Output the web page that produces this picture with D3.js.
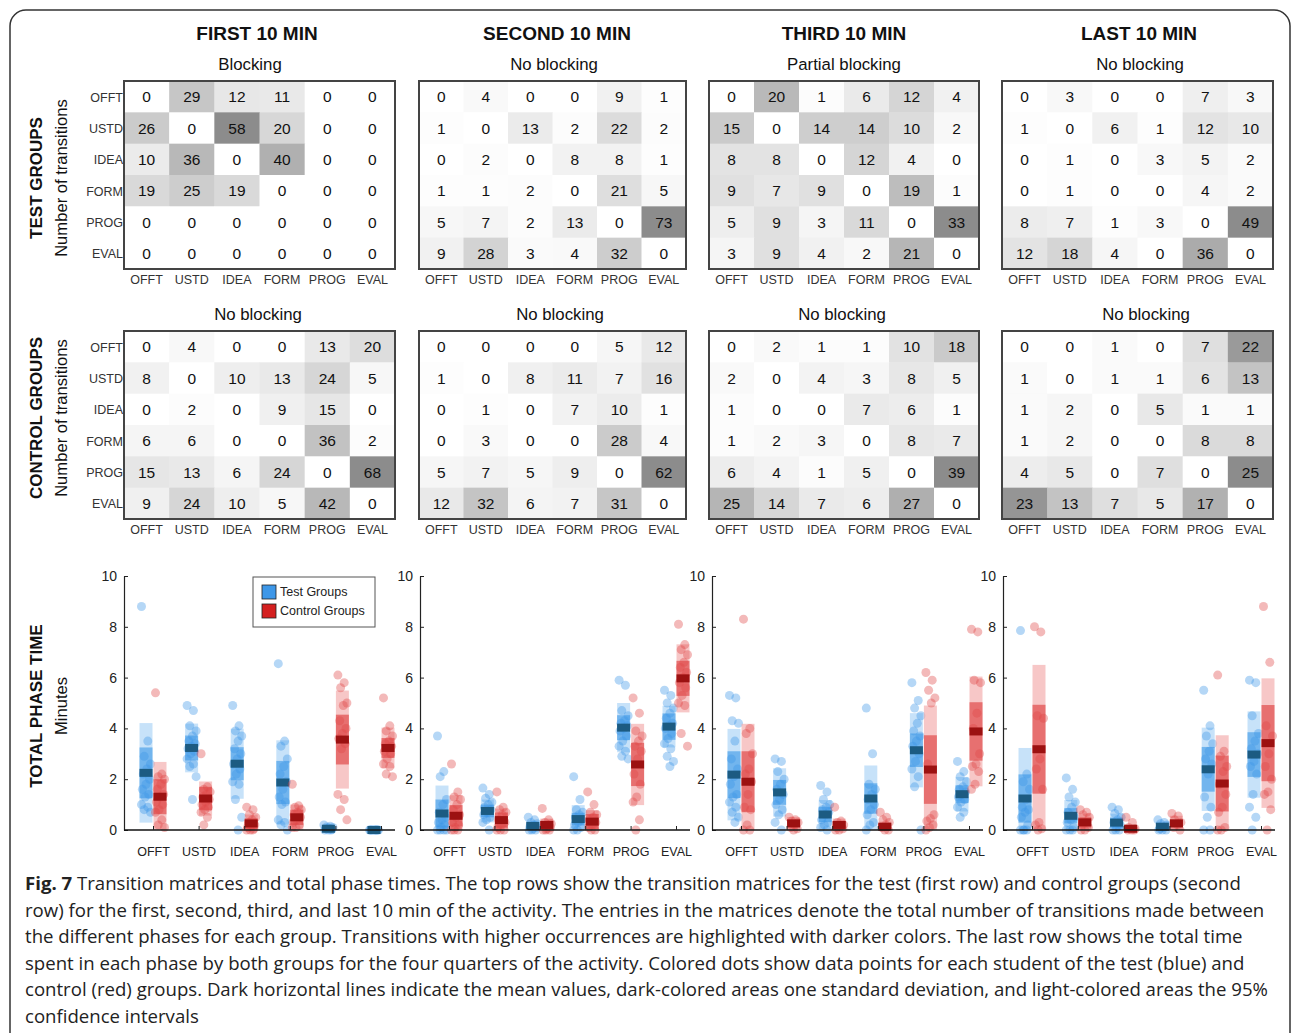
<!DOCTYPE html>
<html>
<head>
<meta charset="utf-8">
<script src="https://cdn.jsdelivr.net/npm/d3@7"></script>
<style>
body { margin: 0; background: #fff; }
text { font-family: "Liberation Sans", Arial, sans-serif; }
</style>
</head>
<body>
<script>
var phases = ["OFFT", "USTD", "IDEA", "FORM", "PROG", "EVAL"];
var periods = ["FIRST 10 MIN", "SECOND 10 MIN", "THIRD 10 MIN", "LAST 10 MIN"];
var testLabels = ["Blocking", "No blocking", "Partial blocking", "No blocking"];
var controlLabels = ["No blocking", "No blocking", "No blocking", "No blocking"];

// transition matrices, rows = from, cols = to
var testMatrices = [
  [[0,29,12,11,0,0],[26,0,58,20,0,0],[10,36,0,40,0,0],[19,25,19,0,0,0],[0,0,0,0,0,0],[0,0,0,0,0,0]],
  [[0,4,0,0,9,1],[1,0,13,2,22,2],[0,2,0,8,8,1],[1,1,2,0,21,5],[5,7,2,13,0,73],[9,28,3,4,32,0]],
  [[0,20,1,6,12,4],[15,0,14,14,10,2],[8,8,0,12,4,0],[9,7,9,0,19,1],[5,9,3,11,0,33],[3,9,4,2,21,0]],
  [[0,3,0,0,7,3],[1,0,6,1,12,10],[0,1,0,3,5,2],[0,1,0,0,4,2],[8,7,1,3,0,49],[12,18,4,0,36,0]]
];
var controlMatrices = [
  [[0,4,0,0,13,20],[8,0,10,13,24,5],[0,2,0,9,15,0],[6,6,0,0,36,2],[15,13,6,24,0,68],[9,24,10,5,42,0]],
  [[0,0,0,0,5,12],[1,0,8,11,7,16],[0,1,0,7,10,1],[0,3,0,0,28,4],[5,7,5,9,0,62],[12,32,6,7,31,0]],
  [[0,2,1,1,10,18],[2,0,4,3,8,5],[1,0,0,7,6,1],[1,2,3,0,8,7],[6,4,1,5,0,39],[25,14,7,6,27,0]],
  [[0,0,1,0,7,22],[1,0,1,1,6,13],[1,2,0,5,1,1],[1,2,0,0,8,8],[4,5,0,7,0,25],[23,13,7,5,17,0]]
];

// total phase time (minutes): mean, sd half-width, 95% half-width
var testMean = [[2.25,3.23,2.61,1.87,0.05,0.0],[0.65,0.75,0.16,0.43,4.03,4.07],[2.18,1.48,0.61,1.24,3.14,1.41],[1.24,0.56,0.29,0.13,2.39,2.97]];
var testSd   = [[1.0,0.49,0.65,0.85,0.06,0.0],[0.55,0.25,0.1,0.25,0.49,0.52],[0.92,0.49,0.3,0.6,0.66,0.35],[0.95,0.3,0.2,0.1,0.88,0.88]];
var testCi   = [[1.96,0.96,1.38,1.66,0.12,0.0],[1.1,0.45,0.2,0.55,0.97,0.82],[1.8,0.95,0.57,1.3,1.46,0.68],[1.99,0.62,0.35,0.2,1.64,1.7]];
var controlMean = [[1.31,1.24,0.26,0.5,3.56,3.23],[0.56,0.39,0.2,0.33,2.58,5.97],[1.9,0.26,0.2,0.13,2.38,3.88],[3.18,0.3,0.05,0.26,1.83,3.42]];
var controlSd   = [[0.69,0.46,0.2,0.3,0.98,0.39],[0.42,0.3,0.15,0.3,0.85,0.69],[1.2,0.15,0.15,0.12,1.35,1.15],[1.75,0.2,0.08,0.15,1.1,1.5]];
var controlCi   = [[1.37,0.67,0.35,0.5,1.93,0.8],[0.81,0.45,0.25,0.45,1.6,1.34],[2.28,0.25,0.25,0.2,2.52,2.16],[3.32,0.35,0.15,0.3,1.9,2.55]];

var testPoints = [
  [[8.8,3.5,2.9,2.6,2.4,2.2,2.0,1.8,1.6,1.4,1.3,1.0,0.9,0.8,0.7],
   [4.9,4.7,4.1,3.9,3.7,3.5,3.4,3.3,3.2,3.1,3.0,2.8,2.6,2.5,2.1,1.2],
   [4.9,4.1,3.9,3.7,3.5,3.2,3.0,2.8,2.6,2.4,2.2,1.9,1.8,1.2,0.5,0.0],
   [6.55,3.5,3.3,2.8,2.5,2.2,1.9,1.6,1.3,1.1,1.0,0.4,0.3,0.2,0.0],
   [0.2,0.15,0.12,0.1,0.08,0.05,0.02,0,0,0],
   [0,0,0,0,0,0,0,0,0,0]],
  [[3.7,2.3,2.1,1.2,1.0,0.7,0.5,0.4,0.3,0.2,0.1,0,0,0,0],
   [1.65,1.4,1.25,1.1,1.0,0.9,0.8,0.7,0.6,0.5,0.4,0.3,0.0],
   [0.5,0.4,0.3,0.25,0.2,0.15,0.1,0.05,0,0,0],
   [2.1,1.2,0.8,0.7,0.6,0.5,0.4,0.3,0.2,0.1,0,0],
   [5.9,5.7,4.7,4.5,4.3,4.2,4.1,4.0,3.9,3.7,3.5,3.3,3.1,2.9,2.8],
   [5.5,5.3,5.0,4.8,4.6,4.4,4.2,4.1,4.0,3.8,3.6,3.4,3.2,2.9,2.7,2.5]],
  [[5.3,5.2,4.3,4.2,3.5,2.8,2.4,2.1,1.8,1.4,1.3,1.1,0.9,0.7,0.5,0.3],
   [2.8,2.7,2.3,2.0,1.8,1.6,1.4,1.2,1.0,0.8,0.6,0.3,0.0],
   [1.75,1.5,1.2,1.0,0.9,0.8,0.7,0.6,0.4,0.3,0.2,0.1,0.0],
   [4.8,3.0,1.8,1.6,1.4,1.2,1.0,0.8,0.6,0.3,0.2,0.0],
   [5.8,5.1,4.8,4.5,4.2,3.9,3.7,3.5,3.3,3.0,2.7,2.4,2.1,1.7,0.0],
   [2.7,2.3,2.1,1.9,1.7,1.6,1.5,1.4,1.3,1.2,1.1,0.9,0.7,0.5]],
  [[7.85,2.2,1.9,1.6,1.2,0.9,0.8,0.7,0.5,0.2,0,0,0,0],
   [2.05,1.6,1.3,1.1,0.9,0.7,0.5,0.4,0.3,0.1,0,0,0],
   [0.9,0.8,0.65,0.5,0.4,0.3,0.2,0.1,0,0,0],
   [0.4,0.3,0.25,0.2,0.1,0.05,0,0,0],
   [5.5,4.1,3.7,3.4,3.1,2.8,2.6,2.2,1.3,0.9,0.5,0,0],
   [5.9,5.8,4.5,3.8,3.5,3.2,3.0,2.7,2.5,2.2,1.4,0.9,0.5,0]]
];
var controlPoints = [
  [[5.4,2.2,2.1,2.0,1.8,1.6,1.4,1.3,1.1,1.0,0.8,0.7,0.4,0.2,0.1],
   [3.0,1.7,1.6,1.5,1.4,1.3,1.2,1.1,1.0,0.9,0.8,0.7,0.5,0.2],
   [0.9,0.8,0.6,0.5,0.4,0.3,0.2,0.15,0.1,0.05,0,0,0],
   [1.8,0.95,0.9,0.8,0.7,0.6,0.5,0.4,0.3,0.2,0.1,0.1],
   [6.1,5.8,5.6,5.0,4.9,4.3,4.0,3.8,3.6,3.4,3.2,1.4,1.2,0.8,0.4],
   [5.2,4.1,3.9,3.7,3.5,3.4,3.3,3.2,3.1,3.0,2.8,2.6,2.5,2.2,2.1]],
  [[2.6,1.5,1.3,1.2,1.0,0.8,0.6,0.5,0.3,0.2,0.1,0,0,0],
   [1.5,0.9,0.8,0.7,0.6,0.4,0.3,0.2,0.1,0,0,0],
   [0.85,0.4,0.3,0.25,0.2,0.15,0.1,0.05,0,0,0],
   [1.5,1.0,0.7,0.6,0.5,0.4,0.3,0.2,0.1,0,0],
   [5.2,4.6,3.9,3.7,3.5,3.3,3.1,2.8,2.2,1.8,1.3,1.1,0.4,0.0],
   [8.1,7.3,7.1,6.9,6.6,6.4,6.2,6.0,5.8,5.6,5.3,5.0,4.9,3.8,3.3]],
  [[8.3,4.0,3.8,3.0,2.4,2.2,1.9,1.4,0.9,0.8,0.2,0,0],
   [0.5,0.4,0.35,0.3,0.2,0.1,0.05,0],
   [0.9,0.35,0.3,0.2,0.15,0.1,0.05,0,0],
   [0.7,0.5,0.4,0.3,0.2,0.1,0,0],
   [6.2,5.9,5.5,5.2,5.0,2.6,0.6,0.45,0.35,0.2,0.1,0],
   [7.9,7.8,5.9,5.8,4.6,4.0,3.0,2.6,2.5,2.3,1.8,1.6]],
  [[8.0,7.8,4.5,4.4,2.8,2.4,1.6,0.3,0.2,0.05,0],
   [0.8,0.7,0.6,0.5,0.3,0.2,0.1,0,0],
   [0.5,0.3,0.1,0.05,0,0,0],
   [0.65,0.55,0.4,0.3,0.2,0.1,0],
   [6.1,3.1,2.9,2.5,2.3,1.8,1.4,0.9,0.7,0.1,0,0],
   [8.8,6.6,4.1,3.7,3.0,2.5,2.0,1.5,1.4,0.8,0]]
];

var captionLines = [
  "Transition matrices and total phase times. The top rows show the transition matrices for the test (first row) and control groups (second",
  "row) for the first, second, third, and last 10 min of the activity. The entries in the matrices denote the total number of transitions made between",
  "the different phases for each group. Transitions with higher occurrences are highlighted with darker colors. The last row shows the total time",
  "spent in each phase by both groups for the four quarters of the activity. Colored dots show data points for each student of the test (blue) and",
  "control (red) groups. Dark horizontal lines indicate the mean values, dark-colored areas one standard deviation, and light-colored areas the 95%",
  "confidence intervals"
];

var W = 1292, H = 1033;
var svg = d3.select("body").append("svg")
  .attr("width", W)
  .attr("height", H);

// frame
svg.append("rect")
  .attr("x", 10).attr("y", 10)
  .attr("width", 1280).attr("height", 1100)
  .attr("rx", 16)
  .attr("fill", "none")
  .attr("stroke", "#333")
  .attr("stroke-width", 1.5);

var panelX = [[124, 395], [419, 686], [709, 979], [1002, 1273]];
var matrixY = [[81, 269], [331, 519]];
var titleX = [257, 557, 844, 1139];
var subX = [[250, 554, 844, 1140], [258, 560, 842, 1146]];

periods.forEach(function (p, i) {
  svg.append("text")
    .attr("x", titleX[i])
    .attr("y", 40)
    .attr("text-anchor", "middle")
    .attr("font-size", 19)
    .attr("font-weight", "bold")
    .attr("fill", "#111")
    .text(p);
});

function drawMatrix(m, pi, gi, label) {
  var x = d3.scaleBand().domain(phases).range(panelX[pi]);
  var y = d3.scaleBand().domain(phases).range(matrixY[gi]);
  var mx = d3.max(m, r => d3.max(r));
  var col = d3.scaleLinear().domain([0, mx]).range(["#ffffff", "#8c8c8c"]);
  var cells = [];
  m.forEach(function (row, r) {
    row.forEach(function (v, c) { cells.push({ r: phases[r], c: phases[c], v: v }); });
  });
  var g = svg.append("g");
  g.selectAll("rect.cell")
    .data(cells)
    .enter().append("rect")
    .attr("x", d => x(d.c))
    .attr("y", d => y(d.r))
    .attr("width", x.bandwidth() + 0.5)
    .attr("height", y.bandwidth() + 0.5)
    .attr("fill", d => col(d.v));
  g.selectAll("text.val")
    .data(cells)
    .enter().append("text")
    .attr("x", d => x(d.c) + x.bandwidth() / 2)
    .attr("y", d => y(d.r) + y.bandwidth() / 2 + 5.5)
    .attr("text-anchor", "middle")
    .attr("font-size", 15.5)
    .attr("fill", "#111")
    .text(d => d.v);
  g.append("rect")
    .attr("x", panelX[pi][0]).attr("y", matrixY[gi][0])
    .attr("width", panelX[pi][1] - panelX[pi][0])
    .attr("height", matrixY[gi][1] - matrixY[gi][0])
    .attr("fill", "none")
    .attr("stroke", "#444")
    .attr("stroke-width", 2);
  // column labels
  g.selectAll("text.col")
    .data(phases)
    .enter().append("text")
    .attr("x", d => x(d) + x.bandwidth() / 2)
    .attr("y", matrixY[gi][1] + 15)
    .attr("text-anchor", "middle")
    .attr("font-size", 12.5)
    .attr("fill", "#333")
    .text(d => d);
  if (pi === 0) {
    g.selectAll("text.row")
      .data(phases)
      .enter().append("text")
      .attr("x", panelX[pi][0] - 1)
      .attr("y", d => y(d) + y.bandwidth() / 2 + 5)
      .attr("text-anchor", "end")
      .attr("font-size", 12.5)
      .attr("fill", "#333")
      .text(d => d);
  }
  svg.append("text")
    .attr("x", subX[gi][pi])
    .attr("y", matrixY[gi][0] - 11)
    .attr("text-anchor", "middle")
    .attr("font-size", 16.8)
    .attr("fill", "#111")
    .text(label);
}

testMatrices.forEach((m, i) => drawMatrix(m, i, 0, testLabels[i]));
controlMatrices.forEach((m, i) => drawMatrix(m, i, 1, controlLabels[i]));

// row titles
function sideTitle(t1, t2, cy) {
  svg.append("text")
    .attr("transform", "translate(42," + cy + ") rotate(-90)")
    .attr("text-anchor", "middle")
    .attr("font-size", 17)
    .attr("font-weight", "bold")
    .attr("fill", "#111")
    .text(t1);
  svg.append("text")
    .attr("transform", "translate(67," + cy + ") rotate(-90)")
    .attr("text-anchor", "middle")
    .attr("font-size", 16.6)
    .attr("fill", "#111")
    .text(t2);
}
sideTitle("TEST GROUPS", "Number of transitions", 178);
sideTitle("CONTROL GROUPS", "Number of transitions", 418);
sideTitle("TOTAL PHASE TIME", "Minutes", 706);

// total phase time panels
var axisX = [[124, 395], [420, 690], [712, 983], [1003, 1275]];
var yT = d3.scaleLinear().domain([0, 10]).range([830, 576]);

var styles = {
  test: { ci: "#a9d2f6", sd: "#4fa2ea", pt: "#3d97e8", mean: "#1c5b82", dx: -7 },
  control: { ci: "#f3a9a9", sd: "#df4b4b", pt: "#e04848", mean: "#9c1111", dx: 7 }
};

function drawGroup(g, x, s, means, sds, cis, pts) {
  var bw = 13;
  phases.forEach(function (ph, k) {
    var cx = x(ph) + s.dx;
    var m = means[k];
    g.append("rect")
      .attr("x", cx - bw / 2).attr("width", bw)
      .attr("y", yT(m + cis[k]))
      .attr("height", yT(Math.max(0, m - cis[k])) - yT(m + cis[k]))
      .attr("fill", s.ci).attr("opacity", 0.65);
    g.append("rect")
      .attr("x", cx - bw / 2).attr("width", bw)
      .attr("y", yT(m + sds[k]))
      .attr("height", yT(Math.max(0, m - sds[k])) - yT(m + sds[k]))
      .attr("fill", s.sd).attr("opacity", 0.7);
    g.selectAll(null)
      .data(pts[k])
      .enter().append("circle")
      .attr("cx", (d, i) => cx + ((i * 7) % 11 - 5) * 0.9)
      .attr("cy", d => yT(d))
      .attr("r", 4.5)
      .attr("fill", s.pt)
      .attr("opacity", 0.38);
    g.append("rect")
      .attr("x", cx - bw / 2).attr("width", bw)
      .attr("y", yT(m) - 4).attr("height", 8)
      .attr("fill", s.mean);
  });
}

axisX.forEach(function (ax, i) {
  var g = svg.append("g");
  var x = d3.scalePoint().domain(phases).range([ax[0] + 29, ax[1] - 14]);
  drawGroup(g, x, styles.test, testMean[i], testSd[i], testCi[i], testPoints[i]);
  drawGroup(g, x, styles.control, controlMean[i], controlSd[i], controlCi[i], controlPoints[i]);

  var yAxis = g.append("g")
    .attr("transform", "translate(" + ax[0] + ",0)")
    .call(d3.axisLeft(yT).tickValues([0, 2, 4, 6, 8, 10]).tickSizeInner(-4).tickSizeOuter(0).tickPadding(7));
  yAxis.selectAll("text").attr("font-size", 14).attr("fill", "#222").style("font-family", "Liberation Sans, Arial, sans-serif");
  yAxis.select(".domain").attr("stroke", "#222").attr("stroke-width", 1.2);
  yAxis.selectAll("line").attr("stroke", "#222");

  var xAxis = g.append("g")
    .attr("transform", "translate(0,830)")
    .call(d3.axisBottom(x).tickSizeInner(-4).tickSizeOuter(0).tickPadding(17));
  xAxis.select(".domain").attr("d", "M" + ax[0] + ",0H" + ax[1]).attr("stroke", "#111").attr("stroke-width", 1.3);
  xAxis.selectAll("text").attr("font-size", 12.5).attr("fill", "#222").style("font-family", "Liberation Sans, Arial, sans-serif");
  xAxis.selectAll("line").attr("stroke", "#222");
});

// legend
var leg = svg.append("g");
leg.append("rect")
  .attr("x", 253).attr("y", 577).attr("width", 122).attr("height", 50)
  .attr("fill", "#fff").attr("stroke", "#555").attr("stroke-width", 1);
[["Test Groups", "#3d97e8", 585], ["Control Groups", "#d42020", 604]].forEach(function (d) {
  leg.append("rect")
    .attr("x", 262).attr("y", d[2]).attr("width", 14).attr("height", 14)
    .attr("fill", d[1]).attr("stroke", "#222").attr("stroke-width", 0.8);
  leg.append("text")
    .attr("x", 280).attr("y", d[2] + 11)
    .attr("font-size", 12.5).attr("fill", "#222")
    .text(d[0]);
});

// caption
var cap = svg.append("text")
  .attr("x", 25)
  .attr("y", 890)
  .style("font-family", "'Open Sans', sans-serif")
  .attr("font-size", 18.6)
  .attr("fill", "#222");
captionLines.forEach(function (line, i) {
  if (i === 0) {
    cap.append("tspan").attr("x", 25).attr("y", 890).attr("font-weight", "bold").text("Fig. 7");
    cap.append("tspan").text(" " + line);
  } else {
    cap.append("tspan").attr("x", 25).attr("y", 890 + i * 26.5).text(line);
  }
});
</script>
</body>
</html>
